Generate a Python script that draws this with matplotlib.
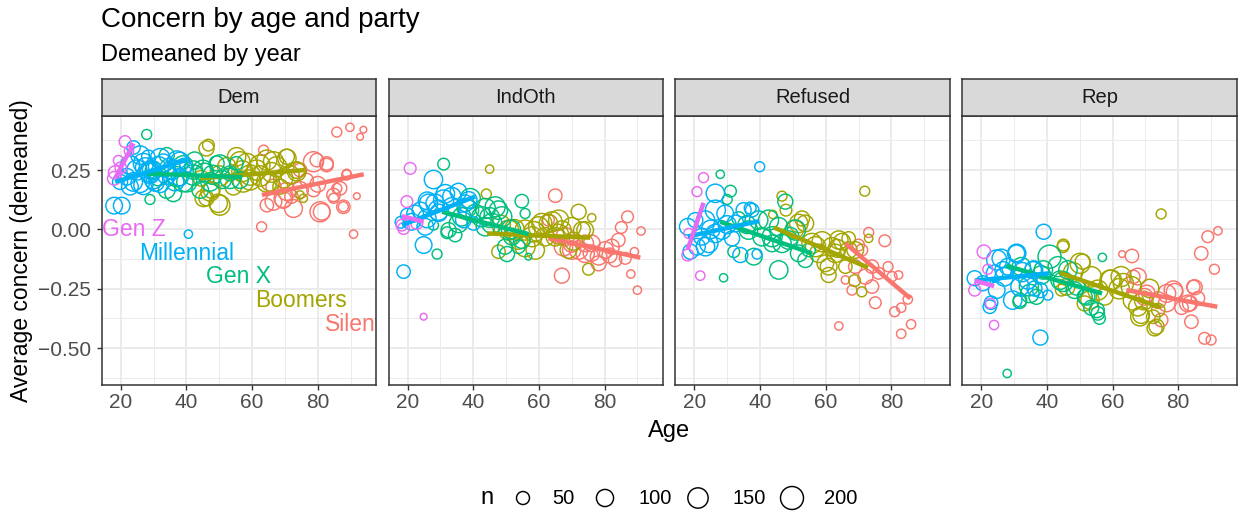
import numpy as np
import matplotlib
matplotlib.use("Agg")
import matplotlib.pyplot as plt

plt.rcParams['font.family'] = ['Liberation Sans', 'DejaVu Sans']

PANELS = ["Dem", "IndOth", "Refused", "Rep"]
GEN_NAMES = ["Silent", "Boomers", "Gen X", "Millennial", "Gen Z"]
GEN_COLORS = ["#F8766D", "#A3A500", "#00BF7D", "#00B0F6", "#E76BF3"]

# ---------------- Dem ----------------
DEM_Z_AGE = [21.3, 19.3, 18.3, 18, 20, 22.5]
DEM_Z_VAL = [0.37, 0.29, 0.24, 0.215, 0.26, 0.33]
DEM_Z_N = [38, 25, 54, 54, 35, 20]
DEM_M_AGE = [18, 20.3, 23.9, 40.6, 21.8, 24.9, 26.9, 28.9, 22.8, 25.9, 31.5, 34, 37.1, 39.1, 32, 19.8, 28.4, 30, 35.5, 27.5, 33, 38, 23, 29.5,
             22.8, 25.9, 28.9, 32, 35, 38, 23.8, 26.9, 30.5, 36.5]
DEM_M_VAL = [0.10, 0.10, 0.345, -0.02, 0.222, 0.25, 0.278, 0.236, 0.18, 0.194, 0.264, 0.229, 0.292, 0.264, 0.194, 0.20, 0.306, 0.21, 0.25, 0.26, 0.28, 0.22, 0.27, 0.25,
             0.271, 0.313, 0.243, 0.299, 0.257, 0.285, 0.20, 0.187, 0.20, 0.20]
DEM_M_N = [93, 93, 54, 14, 93, 145, 145, 145, 93, 118, 145, 118, 118, 93, 118, 72, 54, 120, 130, 140, 110, 100, 120, 130,
           130, 120, 150, 140, 150, 130, 120, 130, 120, 110]
DEM_X_AGE = [27.9, 28.9, 36, 34, 37.1, 40.1, 42.1, 44.2, 47.2, 49.2, 53.3, 56.3, 55.2, 31.5, 34, 39, 45.5, 51, 42.5, 30,
             42.1, 50.2, 39, 53.3, 45, 48]
DEM_X_VAL = [0.40, 0.126, 0.152, 0.313, 0.222, 0.20, 0.25, 0.166, 0.20, 0.278, 0.236, 0.208, 0.278, 0.222, 0.166, 0.27, 0.24, 0.21, 0.29, 0.25,
             0.229, 0.271, 0.20, 0.215, 0.25, 0.23]
DEM_X_N = [24, 24, 93, 72, 145, 145, 118, 93, 118, 72, 72, 93, 54, 118, 93, 130, 120, 110, 100, 90,
           150, 150, 140, 150, 140, 130]
DEM_B_AGE = [46.7, 46.1, 49.7, 47.7, 55.3, 58.4, 61.4, 64.5, 67.5, 70.6, 73.6, 59.4, 52.3, 65.5, 54.3, 75.6, 68.6, 50, 57, 62.5, 71.5, 44.5, 66,
             46.1, 45.2, 50.2, 56.3, 59.4, 62.4, 66.5, 70.6, 73.6, 57.3, 64.5, 69.5, 74.6, 47.2]
DEM_B_VAL = [0.355, 0.131, 0.11, 0.166, 0.306, 0.278, 0.25, 0.292, 0.264, 0.306, 0.25, 0.208, 0.264, 0.20, 0.18, 0.131, 0.18, 0.225, 0.245, 0.225, 0.23, 0.215, 0.24,
             0.341, 0.131, 0.102, 0.285, 0.229, 0.271, 0.285, 0.299, 0.243, 0.20, 0.20, 0.215, 0.145, 0.158]
DEM_B_N = [38, 72, 118, 93, 118, 145, 145, 145, 145, 72, 93, 145, 118, 118, 93, 14, 72, 150, 160, 150, 120, 80, 140,
           72, 93, 145, 145, 150, 145, 145, 118, 120, 150, 150, 130, 14, 120]
DEM_S_AGE = [85.8, 89.8, 93.9, 92.9, 62.9, 63.5, 91.9, 90.9, 64.5, 69.5, 66.5, 74.6, 79.7, 82.7, 81.2, 74.6, 78.7, 87.8, 88.8, 85.8, 84.8, 72, 76.6, 70.5, 80,
             78.7, 82.7, 66.5, 69.5, 72.6, 80.7, 84.8, 86.8, 88.8, 87.8]
DEM_S_VAL = [0.41, 0.43, 0.42, 0.39, 0.011, 0.334, 0.14, -0.02, 0.102, 0.124, 0.18, 0.25, 0.292, 0.278, 0.074, 0.166, 0.166, 0.095, 0.236, 0.173, 0.131, 0.138, 0.208, 0.16, 0.19,
             0.285, 0.271, 0.116, 0.131, 0.088, 0.074, 0.145, 0.173, 0.229, 0.095]
DEM_S_N = [24, 14, 7, 7, 24, 24, 7, 14, 54, 93, 72, 54, 54, 54, 93, 93, 54, 24, 14, 24, 24, 54, 54, 110, 80,
           145, 54, 93, 118, 110, 145, 54, 54, 24, 54]

# ---------------- IndOth ----------------
IND_Z_AGE = [20.8, 19.8, 18.3, 18.8, 24.9, 22.8]
IND_Z_VAL = [0.257, 0.117, 0.018, 0.004, -0.368, 0.025]
IND_Z_N = [38, 38, 38, 38, 7, 38]
IND_M_AGE = [27.9, 18.8, 24.9, 18, 21.3, 25.9, 31, 28.4, 35.5, 33.5, 38.6, 40.1, 31.5, 23.9, 37, 20, 29.5, 26,
             26.4, 29.4, 33.5, 25.4, 22.3, 37.6]
IND_M_VAL = [0.21, -0.178, -0.066, 0.03, 0.032, 0.046, 0.124, 0.11, 0.159, 0.095, 0.124, 0.025, 0.15, 0.08, 0.04, 0.06, 0.07, 0.12,
             0.11, 0.081, 0.138, 0.011, 0.067, 0.11]
IND_M_N = [118, 54, 93, 38, 93, 118, 145, 118, 93, 118, 93, 54, 120, 93, 80, 60, 100, 110,
           118, 145, 118, 93, 93, 93]
IND_X_AGE = [31, 29, 32, 34.5, 27.9, 39.1, 36.5, 43.7, 46.7, 40.6, 48.7, 43.7, 54.8, 55.8, 50.3, 56.8, 53.8, 38, 45, 51.5,
             32.5, 35.5, 38.6, 42.6, 45.7, 47.7, 51.8, 54.8, 49.7]
IND_X_VAL = [0.275, -0.104, -0.014, -0.024, 0.018, 0.13, 0.053, 0.088, 0.095, 0.067, 0.053, 0.011, 0.119, 0.067, -0.104, -0.115, -0.073, 0.09, 0.05, 0.0,
             -0.003, 0.025, 0.081, 0.053, 0.025, 0.081, -0.031, -0.045, -0.073]
IND_X_N = [38, 24, 38, 54, 24, 145, 118, 145, 145, 118, 145, 118, 54, 24, 72, 7, 54, 130, 140, 130,
           72, 118, 145, 145, 145, 118, 93, 93, 72]
IND_B_AGE = [45, 44, 47.7, 50.8, 55.8, 57.9, 60.9, 64, 67, 72.1, 76.1, 75.1, 69, 61.9, 53.8, 73.1, 48.5, 58.5, 66, 70.5, 52.5,
             55.8, 59.9, 62.9, 66, 70, 74.1, 58.9, 65]
IND_B_VAL = [0.254, 0.149, -0.094, -0.003, -0.073, -0.031, 0.025, 0.032, -0.003, 0.074, 0.049, -0.168, -0.087, -0.031, -0.045, -0.003, 0.02, -0.01, -0.02, -0.05, 0.0,
             -0.003, 0.011, 0.025, 0.039, 0.011, -0.003, -0.087, -0.031]
IND_B_N = [14, 24, 54, 145, 145, 145, 145, 145, 118, 72, 14, 38, 93, 118, 118, 93, 120, 150, 140, 110, 140,
           145, 145, 118, 145, 118, 93, 118, 118]
IND_S_AGE = [65, 67, 62.9, 67.5, 72.1, 74.1, 78.2, 80.2, 83.2, 84.2, 85.1, 87, 91.1, 89.1, 88, 90, 86.3, 70, 76, 81.5,
             68, 70, 76.1, 78.2, 82.2, 74.1]
IND_S_VAL = [0.142, -0.195, 0.039, -0.073, -0.087, -0.059, -0.143, -0.087, -0.129, -0.045, 0.008, 0.053, -0.007, -0.094, -0.188, -0.256, -0.122, -0.06, -0.1, -0.11,
             -0.031, -0.087, -0.059, -0.115, -0.073, -0.101]
IND_S_N = [54, 72, 38, 118, 118, 93, 72, 93, 54, 54, 38, 38, 14, 14, 14, 14, 38, 100, 90, 70,
           118, 118, 93, 93, 72, 118]

# ---------------- Refused ----------------
REF_Z_AGE = [22.8, 20.8, 18, 21.8, 18.3]
REF_Z_VAL = [0.218, 0.159, -0.108, -0.195, -0.017]
REF_Z_N = [24, 24, 38, 20, 24]
REF_M_AGE = [39.9, 26.4, 18, 20.3, 26.4, 23.4, 18.8, 34, 37.6, 37, 28.4, 31.5, 39.1, 22.3, 30, 25,
             23.4, 26.4, 29.4, 32.5, 35, 20.8, 24.4]
REF_M_VAL = [0.264, 0.152, 0.011, 0.039, 0.081, -0.073, -0.094, -0.108, 0.081, 0.09, -0.003, -0.038, -0.104, -0.031, 0.02, 0.0,
             0.039, -0.017, 0.067, 0.025, 0.081, -0.073, -0.059]
REF_M_N = [24, 118, 93, 72, 145, 118, 72, 72, 54, 38, 118, 72, 24, 93, 110, 120,
           118, 118, 93, 93, 72, 93, 118]
REF_X_AGE = [27.9, 31, 30, 28.9, 32, 33.5, 38.1, 42.6, 47.7, 46.7, 45.7, 50.8, 53.8, 54.8, 40.6, 43.7, 36, 49,
             36.5, 39.6, 43.7, 48.7, 51.8, 45.7]
REF_X_VAL = [0.232, 0.161, 0.126, -0.204, -0.094, 0.046, -0.115, 0.039, 0.117, -0.059, -0.171, -0.003, -0.129, -0.087, -0.031, -0.059, 0.02, -0.03,
             -0.003, 0.039, -0.031, -0.045, -0.101, 0.011]
REF_X_N = [14, 38, 24, 14, 38, 54, 93, 145, 72, 118, 118, 145, 72, 54, 118, 93, 110, 120,
           118, 118, 145, 118, 93, 118]
REF_B_AGE = [46.7, 47.9, 43.9, 52.8, 53.8, 58.9, 60.9, 59.9, 65, 67, 66, 68.8, 71, 71.9, 73.1, 56.9, 62.9, 69, 50.5, 63.5,
             51.8, 55.8, 57.9, 61.9, 64, 67, 60.9]
REF_B_VAL = [0.14, 0.081, 0.063, 0.046, 0.025, -0.052, -0.192, -0.143, -0.052, -0.038, -0.157, -0.216, -0.263, 0.161, -0.038, -0.073, -0.101, -0.087, 0.0, -0.08,
             0.025, -0.059, -0.101, -0.073, -0.045, -0.087, -0.157]
REF_B_N = [24, 38, 14, 72, 93, 145, 72, 93, 93, 54, 54, 38, 24, 24, 14, 145, 118, 93, 120, 110,
           118, 145, 118, 118, 118, 93, 93]
REF_S_AGE = [73.1, 78, 66, 68, 71, 74.1, 75.1, 76.1, 79, 80.2, 82.2, 81, 83, 85, 86, 83, 64, 70,
             69, 72.1, 74.1]
REF_S_VAL = [-0.013, -0.048, -0.213, -0.256, -0.087, -0.241, -0.309, -0.185, -0.157, -0.199, -0.192, -0.347, -0.33, -0.295, -0.40, -0.44, -0.407, -0.066,
             -0.157, -0.199, -0.157]
REF_S_N = [24, 38, 14, 24, 38, 54, 38, 38, 24, 24, 14, 24, 20, 20, 20, 20, 14, 38,
           54, 72, 54]

# ---------------- Rep ----------------
REP_Z_AGE = [20.8, 18, 22, 22.8, 23.9]
REP_Z_VAL = [-0.094, -0.256, -0.168, -0.312, -0.403]
REP_Z_N = [54, 38, 24, 24, 20]
REP_M_AGE = [39, 38, 18, 26.1, 30.7, 23, 24.1, 29.6, 34.2, 36.2, 40.3, 28.1, 20.5, 32.5, 36, 27,
             24.7, 30.8, 26.7, 24.7, 31.8, 35.8, 37.9, 22.6]
REP_M_VAL = [-0.01, -0.456, -0.206, -0.122, -0.101, -0.309, -0.185, -0.298, -0.213, -0.249, -0.277, -0.157, -0.227, -0.18, -0.17, -0.2,
             -0.129, -0.101, -0.171, -0.256, -0.242, -0.171, -0.256, -0.326]
REP_M_N = [72, 72, 72, 118, 93, 54, 93, 118, 118, 72, 24, 93, 72, 130, 110, 120,
           145, 118, 93, 93, 118, 93, 72, 54]
REP_X_AGE = [27.9, 56.9, 40.8, 31.7, 36.8, 43.4, 46.4, 48.4, 51.5, 55.5, 56, 38.3, 32.2, 53.5, 45, 34.5,
             38.9, 34.8, 44, 49.1, 52.1, 55.2, 31.8]
REP_X_VAL = [-0.607, -0.118, -0.115, -0.305, -0.284, -0.157, -0.171, -0.256, -0.284, -0.354, -0.375, -0.192, -0.157, -0.33, -0.22, -0.24,
             -0.171, -0.27, -0.214, -0.242, -0.284, -0.34, -0.298]
REP_X_N = [14, 14, 200, 54, 72, 145, 118, 93, 72, 54, 38, 118, 118, 72, 140, 130,
           118, 118, 118, 93, 93, 72, 54]
REP_B_AGE = [74.8, 44.9, 50.9, 59.6, 62.6, 65.7, 67.7, 68.7, 72.8, 71.3, 55.5, 51.5, 44.4, 57.6, 73.9, 48, 53.5, 62, 69.5,
             45, 50.1, 53.1, 59.2, 63.3, 66.3, 68.3, 73.4, 72.4, 46]
REP_B_VAL = [0.065, -0.073, -0.136, -0.213, -0.199, -0.241, -0.326, -0.361, -0.417, -0.249, -0.256, -0.312, -0.256, -0.284, -0.34, -0.18, -0.2, -0.25, -0.3,
             -0.066, -0.143, -0.298, -0.214, -0.228, -0.298, -0.368, -0.41, -0.368, -0.242]
REP_B_N = [24, 38, 72, 145, 145, 145, 118, 93, 72, 118, 145, 72, 38, 93, 54, 130, 150, 150, 120,
           38, 145, 118, 145, 145, 145, 118, 72, 54, 93]
REP_S_AGE = [62.9, 65.9, 87, 89, 92.1, 91, 88, 90, 85, 86, 82.9, 78.9, 84, 74.8, 73.8, 67.7, 69.7, 76.5, 81,
             78.5, 84.6, 83.6, 76.5, 70.4, 66.3]
REP_S_VAL = [-0.104, -0.112, -0.101, -0.031, -0.006, -0.168, -0.459, -0.466, -0.244, -0.29, -0.312, -0.263, -0.389, -0.382, -0.298, -0.199, -0.284, -0.27, -0.33,
             -0.256, -0.242, -0.312, -0.312, -0.27, -0.2]
REP_S_N = [7, 54, 54, 38, 14, 24, 38, 24, 72, 54, 93, 93, 54, 54, 93, 93, 93, 110, 54,
           118, 54, 72, 93, 93, 54]

# Linear fit lines per panel, generation order S, B, X, M, Z (start age, start value, end age, end value)
DEM_FIT = [(63, 0.145, 94, 0.232), (44.2, 0.215, 76, 0.25), (28, 0.235, 57, 0.22), (18.3, 0.20, 40.6, 0.295), (18.3, 0.215, 23.9, 0.362)]
IND_FIT = [(62.9, -0.038, 90.9, -0.119), (44.2, -0.017, 75.6, -0.035), (30.5, 0.074, 56.9, -0.020), (18.3, 0.018, 40.6, 0.138), (18.3, 0.056, 24.9, 0.032)]
REF_FIT = [(66, -0.059, 85.8, -0.291), (44.2, 0.008, 72.9, -0.161), (27.9, 0.032, 55.8, -0.101), (18, -0.03, 39.8, 0.035), (18, -0.084, 22.8, 0.112)]
REP_FIT = [(64.2, -0.256, 91.9, -0.326), (43.9, -0.183, 74.8, -0.329), (27.6, -0.153, 56.8, -0.27), (18, -0.216, 40.8, -0.185), (18, -0.216, 23.9, -0.239)]

# Generation labels in the Dem panel
LABEL_AGE = [91, 75, 56, 40, 24]
LABEL_VAL = [-0.40, -0.30, -0.20, -0.10, 0.0]

LEGEND_N = [50, 100, 150, 200]
X_TICKS = [20, 40, 60, 80]
Y_TICKS = [-0.5, -0.25, 0.0, 0.25]
Y_TICK_LABELS = ["\u22120.50", "\u22120.25", "0.00", "0.25"]

PANEL_DATA = {
    "Dem": ([(DEM_S_AGE, DEM_S_VAL, DEM_S_N), (DEM_B_AGE, DEM_B_VAL, DEM_B_N), (DEM_X_AGE, DEM_X_VAL, DEM_X_N),
             (DEM_M_AGE, DEM_M_VAL, DEM_M_N), (DEM_Z_AGE, DEM_Z_VAL, DEM_Z_N)], DEM_FIT),
    "IndOth": ([(IND_S_AGE, IND_S_VAL, IND_S_N), (IND_B_AGE, IND_B_VAL, IND_B_N), (IND_X_AGE, IND_X_VAL, IND_X_N),
                (IND_M_AGE, IND_M_VAL, IND_M_N), (IND_Z_AGE, IND_Z_VAL, IND_Z_N)], IND_FIT),
    "Refused": ([(REF_S_AGE, REF_S_VAL, REF_S_N), (REF_B_AGE, REF_B_VAL, REF_B_N), (REF_X_AGE, REF_X_VAL, REF_X_N),
                 (REF_M_AGE, REF_M_VAL, REF_M_N), (REF_Z_AGE, REF_Z_VAL, REF_Z_N)], REF_FIT),
    "Rep": ([(REP_S_AGE, REP_S_VAL, REP_S_N), (REP_B_AGE, REP_B_VAL, REP_B_N), (REP_X_AGE, REP_X_VAL, REP_X_N),
             (REP_M_AGE, REP_M_VAL, REP_M_N), (REP_Z_AGE, REP_Z_VAL, REP_Z_N)], REP_FIT),
}

W, H = 1238, 514
DPI = 100
fig = plt.figure(figsize=(W / DPI, H / DPI), dpi=DPI, facecolor="white")


def size_of(n):
    d_px = 3.0 + 1.414 * np.sqrt(np.asarray(n, dtype=float))
    return (d_px * 72.0 / DPI) ** 2


def px_axes(x0, y0, x1, y1):
    return fig.add_axes([x0 / W, 1 - y1 / H, (x1 - x0) / W, (y1 - y0) / H])


PANEL_LEFTS = [101.7, 388.5, 675.3, 962.2]
PANEL_W = 274.5
PANEL_TOP, PANEL_BOT = 115.7, 385.3
STRIP_TOP = 79.0
XLIM = (14.2, 97.8)
YLIM = (-0.657, 0.479)
BORDER = "#333333"
RING_LW = 1.05

for i, panel in enumerate(PANELS):
    x0 = PANEL_LEFTS[i]
    ax = px_axes(x0, PANEL_TOP, x0 + PANEL_W, PANEL_BOT)
    ax.set_xlim(*XLIM)
    ax.set_ylim(*YLIM)
    ax.set_facecolor("white")
    for xv in [30, 50, 70, 90]:
        ax.axvline(xv, color="#EBEBEB", lw=0.7, zorder=0)
    for yv in [-0.625, -0.375, -0.125, 0.125, 0.375]:
        ax.axhline(yv, color="#EBEBEB", lw=0.7, zorder=0)
    for xv in X_TICKS:
        ax.axvline(xv, color="#EBEBEB", lw=1.4, zorder=0)
    for yv in Y_TICKS:
        ax.axhline(yv, color="#EBEBEB", lw=1.4, zorder=0)

    groups, fits = PANEL_DATA[panel]
    for g, (ages, vals, ns) in enumerate(groups):
        ax.scatter(ages, vals, s=size_of(ns), facecolors="none", edgecolors=GEN_COLORS[g],
                   linewidths=RING_LW, zorder=2)
    for g, (a0, v0, a1, v1) in enumerate(fits):
        ax.plot([a0, a1], [v0, v1], color=GEN_COLORS[g], lw=3.2, solid_capstyle="butt", zorder=3)

    if panel == "Dem":
        for g, name in enumerate(GEN_NAMES):
            ax.text(LABEL_AGE[g], LABEL_VAL[g], name, color=GEN_COLORS[g], fontsize=16.5,
                    ha="center", va="center", clip_on=True, zorder=4)

    ax.set_xticks(X_TICKS)
    ax.set_xticklabels([str(t) for t in X_TICKS])
    ax.set_yticks(Y_TICKS)
    if i == 0:
        ax.set_yticklabels(Y_TICK_LABELS)
    else:
        ax.tick_params(axis="y", left=False, labelleft=False)
    ax.tick_params(direction="out", length=3.8, width=1.0, color=BORDER,
                   labelsize=15, labelcolor="#4D4D4D")
    ax.tick_params(axis="x", pad=2.0)
    ax.tick_params(axis="y", pad=4.0)
    for sp in ax.spines.values():
        sp.set_color(BORDER)
        sp.set_linewidth(1.1)
        sp.set_zorder(5)

    sax = px_axes(x0, STRIP_TOP, x0 + PANEL_W, PANEL_TOP)
    sax.set_facecolor("#D9D9D9")
    sax.set_xticks([])
    sax.set_yticks([])
    for sp in sax.spines.values():
        sp.set_color(BORDER)
        sp.set_linewidth(1.1)
    sax.text(0.5, 0.5, panel, transform=sax.transAxes, ha="center", va="center",
             fontsize=14.5, color="#1A1A1A")

# Titles and axis labels
fig.text(101 / W, 1 - 27 / H, "Concern by age and party", fontsize=20, va="baseline", ha="left")
fig.text(101 / W, 1 - 61 / H, "Demeaned by year", fontsize=17, va="baseline", ha="left")
fig.text(669 / W, 1 - 431 / H, "Age", fontsize=17, ha="center", va="center")
fig.text(22 / W, 1 - 250.5 / H, "Average concern (demeaned)", fontsize=16.5, ha="center",
         va="center", rotation=90)

# Size legend
lax = fig.add_axes([0, 0, 1, 1], facecolor="none")
lax.set_xlim(0, W)
lax.set_ylim(H, 0)
lax.axis("off")
LEG_CX = [523, 605, 698, 792]
LEG_TX = [552, 639, 732, 824]
LEG_Y = 498
lax.text(487, LEG_Y, "n", fontsize=17, ha="center", va="center")
lax.scatter(LEG_CX, [LEG_Y] * 4, s=size_of(LEGEND_N), facecolors="none", edgecolors="black", linewidths=RING_LW)
for tx, nv in zip(LEG_TX, LEGEND_N):
    lax.text(tx, LEG_Y, str(nv), fontsize=14.5, ha="left", va="center", color="black")

fig.savefig("out.png", dpi=DPI, facecolor="white")
